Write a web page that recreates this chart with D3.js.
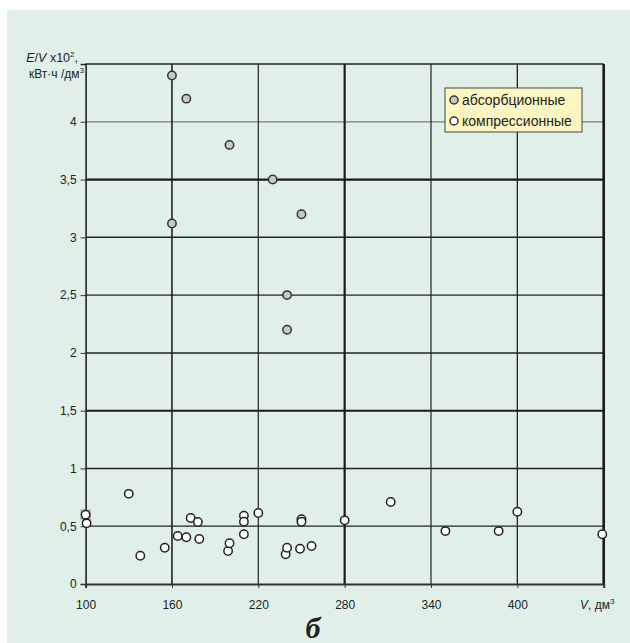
<!DOCTYPE html>
<html>
<head>
<meta charset="utf-8">
<script src="https://cdn.jsdelivr.net/npm/d3@7"></script>
<style>
  html, body { margin: 0; padding: 0; background: #ffffff; }
  svg { display: block; font-family: "Liberation Sans", Arial, sans-serif; }
</style>
</head>
<body>
<svg id="chart" width="630" height="643"></svg>
<script>
// Объём камеры V, дм³, и удельное энергопотребление E/V ×10², кВт·ч/дм³
const absorptionV = [160, 170, 200, 230, 250, 160, 240, 240];
const absorptionE = [4.40, 4.20, 3.80, 3.50, 3.20, 3.12, 2.50, 2.20];

const compressionV = [100, 100.7, 130, 138, 155, 164, 170, 173, 178, 179, 199, 200,
                      210, 210, 210, 220, 239, 240, 249, 257, 250, 250, 280, 312,
                      350, 387, 400, 459];
const compressionE = [0.60, 0.525, 0.78, 0.245, 0.314, 0.415, 0.404, 0.571, 0.536, 0.389, 0.285, 0.352,
                      0.591, 0.539, 0.43, 0.614, 0.257, 0.314, 0.305, 0.329, 0.56, 0.539, 0.551, 0.709,
                      0.458, 0.458, 0.625, 0.43];

const xTicks = [100, 160, 220, 280, 340, 400];
const yTicks = [0, 0.5, 1, 1.5, 2, 2.5, 3, 3.5, 4];
const legendLabels = ["абсорбционные", "компрессионные"];

const svg = d3.select("#chart");

// фон панели
svg.append("rect").attr("x", 7).attr("y", 10).attr("width", 623).attr("height", 633)
  .attr("fill", "#e0f0e8");

const x = d3.scaleLinear().domain([100, 460]).range([85.6, 603.7]);
const y = d3.scaleLinear().domain([0, 4.5]).range([584, 64]);

// толщина линий сетки
const hStyle = v => ({0.5: [1.3, "#222"], 1: [1.5, "#222"], 1.5: [2, "#1a1a1a"], 2: [1.5, "#222"],
  2.5: [1.3, "#222"], 3: [1.5, "#222"], 3.5: [2.2, "#1a1a1a"], 4: [1.2, "#7a7a7a"], 4.5: [1.6, "#222"]}[v]);
const vStyle = v => ({160: [1.6, "#222"], 220: [1.2, "#222"], 280: [2.2, "#1a1a1a"], 340: [1.2, "#222"],
  400: [1.3, "#222"], 460: [2.6, "#1a1a1a"]}[v]);

const grid = svg.append("g");
[0.5, 1, 1.5, 2, 2.5, 3, 3.5, 4, 4.5].forEach(v => {
  const [w, c] = hStyle(v);
  grid.append("line").attr("x1", x(100)).attr("x2", x(460)).attr("y1", y(v)).attr("y2", y(v))
    .attr("stroke", c).attr("stroke-width", w);
});
[160, 220, 280, 340, 400, 460].forEach(v => {
  const [w, c] = vStyle(v);
  grid.append("line").attr("x1", x(v)).attr("x2", x(v)).attr("y1", y(0)).attr("y2", y(4.5))
    .attr("stroke", c).attr("stroke-width", w);
});

const fmt = d => String(d).replace(".", ",");

// ось Y
const yAxis = svg.append("g").attr("transform", `translate(${x(100)},0)`)
  .call(d3.axisLeft(y).tickValues(yTicks).tickFormat(fmt).tickSize(5).tickPadding(4));
yAxis.attr("font-family", null).attr("font-size", null);
yAxis.select(".domain").attr("stroke", "#222").attr("stroke-width", 1.6);
yAxis.selectAll(".tick line").attr("stroke", "#333");
yAxis.selectAll(".tick text").style("font-size", "12px").style("fill", "#222");

// ось X
const xAxis = svg.append("g").attr("transform", `translate(0,${y(0)})`)
  .call(d3.axisBottom(x).tickValues(xTicks).tickSize(4).tickPadding(12));
xAxis.attr("font-family", null).attr("font-size", null);
xAxis.select(".domain").attr("stroke", "#333").attr("stroke-width", 2);
xAxis.selectAll(".tick line").attr("stroke", "#333");
xAxis.selectAll(".tick text").style("font-size", "12px").style("fill", "#222");

// подписи осей
const yt = svg.append("text").attr("x", 78).attr("y", 62).attr("text-anchor", "end")
  .style("font-size", "12.5px").style("fill", "#222");
yt.append("tspan").style("font-style", "italic").text("E");
yt.append("tspan").text("/");
yt.append("tspan").style("font-style", "italic").text("V");
yt.append("tspan").text(" x10");
yt.append("tspan").style("font-size", "8px").attr("dy", -5).text("2");
yt.append("tspan").attr("dy", 5).text(",");

const yt2 = svg.append("text").attr("x", 84).attr("y", 78).attr("text-anchor", "end")
  .style("font-size", "12px").style("fill", "#222");
yt2.append("tspan").text("кВт·ч /дм");
yt2.append("tspan").style("font-size", "8px").attr("dy", -5).text("3");

const xt = svg.append("text").attr("x", 580).attr("y", 609)
  .style("font-size", "12px").style("fill", "#222");
xt.append("tspan").style("font-style", "italic").text("V");
xt.append("tspan").text(", дм");
xt.append("tspan").style("font-size", "8px").attr("dy", -5).text("3");

// точки
const pts = svg.append("g");
const absData = absorptionV.map((v, i) => ({v, e: absorptionE[i]}));
const compData = compressionV.map((v, i) => ({v, e: compressionE[i]}));

// рамка выделения у первой точки
pts.append("rect").attr("x", x(compData[0].v) - 4.5).attr("y", y(compData[0].e) - 4.5)
  .attr("width", 9).attr("height", 9).attr("fill", "none").attr("stroke", "#8a8a8a").attr("stroke-width", 1);

pts.selectAll("circle.abs").data(absData).join("circle").attr("class", "abs")
  .attr("cx", d => x(d.v)).attr("cy", d => y(d.e)).attr("r", 4.2)
  .attr("fill", "#c8c8cc").attr("stroke", "#333").attr("stroke-width", 1.5);
pts.selectAll("circle.comp").data(compData).join("circle").attr("class", "comp")
  .attr("cx", d => x(d.v)).attr("cy", d => y(d.e)).attr("r", 4.2)
  .attr("fill", "#ffffff").attr("stroke", "#222").attr("stroke-width", 1.5);

// легенда
const lg = svg.append("g");
lg.append("rect").attr("x", 445).attr("y", 88).attr("width", 137).attr("height", 44)
  .attr("fill", "#fdf6c0").attr("stroke", "#444").attr("stroke-width", 1);
const lfill = ["#c8c8cc", "#ffffff"];
legendLabels.forEach((t, i) => {
  const cy = 100 + i * 21;
  lg.append("circle").attr("cx", 454).attr("cy", cy).attr("r", 4)
    .attr("fill", lfill[i]).attr("stroke", "#333").attr("stroke-width", 1.5);
  lg.append("text").attr("x", 462).attr("y", cy + 4.5)
    .style("font-size", "14px").style("fill", "#222").text(t);
});

// обозначение рисунка
svg.append("text").attr("x", 313).attr("y", 638).attr("text-anchor", "middle")
  .style("font-family", "'Liberation Serif', 'DejaVu Serif', serif")
  .style("font-style", "italic").style("font-weight", "bold").style("font-size", "30px")
  .style("fill", "#222").text("б");
</script>
</body>
</html>
